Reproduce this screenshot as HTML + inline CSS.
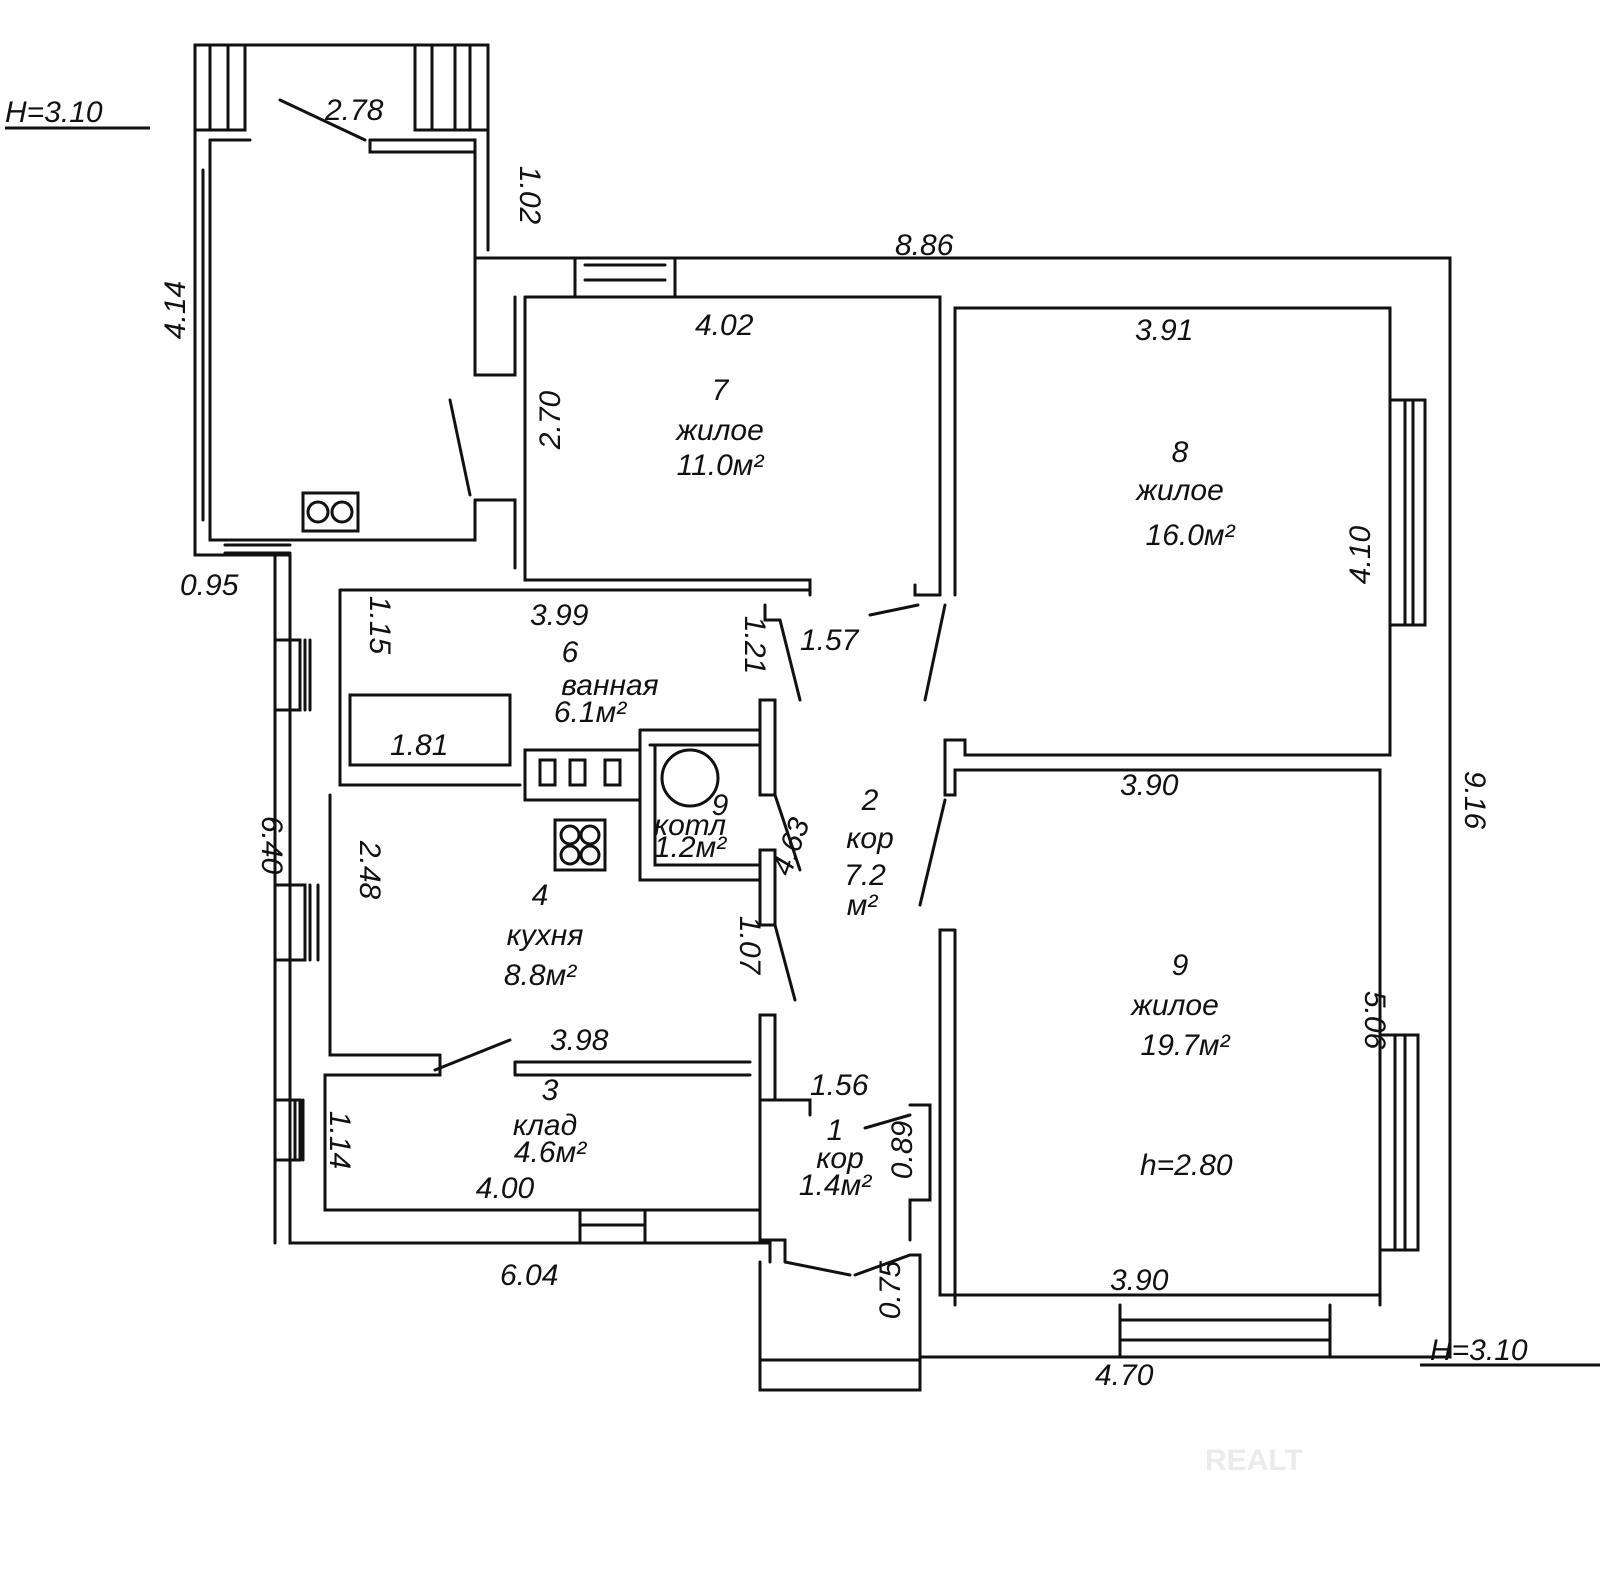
<!DOCTYPE html>
<html><head><meta charset="utf-8"><style>
html,body{margin:0;padding:0;background:#fff}
svg{display:block}
text{font-family:"Liberation Sans","DejaVu Sans",sans-serif;font-style:italic;fill:#111;font-size:30px}
</style></head><body>
<svg width="1600" height="1577" viewBox="0 0 1600 1577" xmlns="http://www.w3.org/2000/svg">
<rect width="1600" height="1577" fill="#fff"/>
<g fill="none" stroke="#111" stroke-width="3" stroke-linecap="round">
<path d="M195,130 V45 H488 V130"/>
<path d="M195,130 H245 V45 M210,45 V130 M228,45 V130"/>
<path d="M415,45 V130 H488 M432,45 V130 M455,45 V130 M470,45 V130"/>
<path d="M195,130 V555 H290 M210,140 V540 H475 V500"/>
<path d="M210,140 H250 M370,140 H475 V250 M488,130 V250"/>
<path d="M210,170 V520 M203,170 V520"/>
<path d="M225,545 H290 M225,553 H290"/>
<path d="M280,100 L365,140 M370,140 V152 H475"/>
<path d="M475,250 V375 H515 V297 M475,500 H515 V568"/>
<path d="M450,400 L470,495"/>
<rect x="303" y="493" width="55" height="38"/><circle cx="318" cy="512" r="10"/><circle cx="342" cy="512" r="10"/>
<path d="M475,258 H1450 V1357 H920"/>
<path d="M575,258 V297 M675,258 V297 M585,265 H665 M585,280 H665"/>
<path d="M525,297 H940 V595 M955,595 V308 H1390 V755 H965 V740 H945 V795 H955 V770 H1380 V1305"/>
<path d="M525,297 V580 H810 V595"/>
<path d="M940,595 H915 V585 M918,605 L870,615 M945,605 L925,700"/>
<path d="M765,605 V620 H780 M780,620 L800,700"/>
<path d="M1390,400 H1425 V625 H1390 M1405,400 V625 M1413,400 V625"/>
<path d="M955,930 H940 V1295 H1380 M955,930 V1305"/>
<path d="M1380,1035 H1418 V1250 H1380 M1395,1035 V1250 M1405,1035 V1250"/>
<path d="M945,800 L920,905"/>
<path d="M1120,1305 V1357 M1330,1305 V1357 M1120,1320 H1330 M1120,1340 H1330"/>
<path d="M290,555 V1243 H770 V1262 M275,555 V1243"/>
<path d="M275,640 H300 V710 H275 M305,640 V710 M310,640 V710"/>
<path d="M275,885 H305 V960 H275 M310,885 V960 M318,885 V960"/>
<path d="M275,1100 H300 V1160 H275 M295,1100 V1160 M303,1100 V1160"/>
<path d="M340,590 H810 M340,590 V785 H520 M330,795 V1055 H440"/>
<path d="M350,695 H510 V765 H350 Z"/>
<path d="M525,750 H640 V800 H525 Z"/>
<rect x="540" y="760" width="15" height="25"/><rect x="570" y="760" width="15" height="25"/><rect x="605" y="760" width="15" height="25"/>
<path d="M640,730 H760 V700 M650,745 H760 M640,730 V880 H760 M655,745 V865 H760"/>
<circle cx="690" cy="778" r="28"/>
<path d="M760,700 H775 V795 H760 Z M760,850 H775 V925 H760 Z"/>
<path d="M775,795 L800,870 M775,925 L795,1000"/>
<rect x="555" y="820" width="50" height="50"/><circle cx="570" cy="835" r="9"/><circle cx="590" cy="835" r="9"/><circle cx="570" cy="855" r="9"/><circle cx="590" cy="855" r="9"/>
<path d="M440,1055 V1075 H325 V1210 H760 M435,1070 L510,1040 M515,1062 H750 M515,1075 H750 M515,1062 V1075"/>
<path d="M760,1015 H775 V1100 H760 Z M760,1100 V1240 H785 V1262"/>
<path d="M775,1100 H810 V1115 M865,1128 L910,1115 M910,1105 H930 V1200 H910 V1240"/>
<path d="M580,1210 V1243 M645,1210 V1243 M580,1225 H645"/>
<path d="M760,1262 V1390 H920 V1357 M760,1360 H920 M785,1262 L850,1275 M855,1275 L910,1255 H920 V1357"/>
</g>
<text x="5" y="122" font-size="38">H=3.10</text>
<line x1="5" y1="128" x2="150" y2="128" stroke="#111" stroke-width="3"/>
<text x="325" y="120">2.78</text>
<text x="895" y="255">8.86</text>
<text x="695" y="335">4.02</text>
<text x="1135" y="340">3.91</text>
<text x="720" y="400" text-anchor="middle">7</text>
<text x="720" y="440" text-anchor="middle">жилое</text>
<text x="720" y="475" text-anchor="middle">11.0м²</text>
<text x="1180" y="462" text-anchor="middle">8</text>
<text x="1180" y="500" text-anchor="middle">жилое</text>
<text x="1190" y="545" text-anchor="middle">16.0м²</text>
<text x="180" y="595">0.95</text>
<text x="530" y="625">3.99</text>
<text x="800" y="650">1.57</text>
<text x="570" y="662" text-anchor="middle">6</text>
<text x="610" y="695" text-anchor="middle">ванная</text>
<text x="590" y="722" text-anchor="middle" font-size="24">6.1м²</text>
<text x="390" y="755">1.81</text>
<text x="1120" y="795">3.90</text>
<text x="720" y="815" text-anchor="middle" font-size="22">9</text>
<text x="690" y="835" text-anchor="middle" font-size="22">котл</text>
<text x="690" y="857" text-anchor="middle" font-size="22">1.2м²</text>
<text x="870" y="810" text-anchor="middle">2</text>
<text x="870" y="848" text-anchor="middle">кор</text>
<text x="865" y="885" text-anchor="middle">7.2</text>
<text x="862" y="915" text-anchor="middle" font-size="20">м²</text>
<text x="540" y="905" text-anchor="middle">4</text>
<text x="545" y="945" text-anchor="middle">кухня</text>
<text x="540" y="985" text-anchor="middle">8.8м²</text>
<text x="1180" y="975" text-anchor="middle">9</text>
<text x="1175" y="1015" text-anchor="middle">жилое</text>
<text x="1185" y="1055" text-anchor="middle">19.7м²</text>
<text x="550" y="1050">3.98</text>
<text x="810" y="1095">1.56</text>
<text x="550" y="1100" text-anchor="middle">3</text>
<text x="545" y="1135" text-anchor="middle">клад</text>
<text x="550" y="1162" text-anchor="middle" font-size="24">4.6м²</text>
<text x="505" y="1198" text-anchor="middle">4.00</text>
<text x="835" y="1140" text-anchor="middle">1</text>
<text x="840" y="1168" text-anchor="middle">кор</text>
<text x="835" y="1195" text-anchor="middle" font-size="24">1.4м²</text>
<text x="1140" y="1175" font-size="34">h=2.80</text>
<text x="1110" y="1290">3.90</text>
<text x="500" y="1285">6.04</text>
<text x="1095" y="1385">4.70</text>
<text x="1430" y="1360" font-size="38">H=3.10</text>
<line x1="1420" y1="1365" x2="1600" y2="1365" stroke="#111" stroke-width="3"/>
<g font-size="28">
<text transform="translate(185,310) rotate(-90)" text-anchor="middle">4.14</text>
<text transform="translate(520,195) rotate(90)" text-anchor="middle">1.02</text>
<text transform="translate(560,420) rotate(-90)" text-anchor="middle">2.70</text>
<text transform="translate(1370,555) rotate(-90)" text-anchor="middle">4.10</text>
<text transform="translate(1465,800) rotate(90)" text-anchor="middle">9.16</text>
<text transform="translate(1365,1020) rotate(90)" text-anchor="middle">5.06</text>
<text transform="translate(370,625) rotate(90)" text-anchor="middle" font-size="22">1.15</text>
<text transform="translate(745,645) rotate(90)" text-anchor="middle">1.21</text>
<text transform="translate(262,845) rotate(90)" text-anchor="middle">6.40</text>
<text transform="translate(360,870) rotate(90)" text-anchor="middle">2.48</text>
<text transform="translate(800,850) rotate(-70)" text-anchor="middle">4.63</text>
<text transform="translate(740,945) rotate(90)" text-anchor="middle">1.07</text>
<text transform="translate(330,1140) rotate(90)" text-anchor="middle">1.14</text>
<text transform="translate(912,1150) rotate(-90)" text-anchor="middle" font-size="24">0.89</text>
<text transform="translate(900,1290) rotate(-90)" text-anchor="middle" font-size="24">0.75</text>
</g>
<text x="1205" y="1470" font-size="80" style="font-style:normal;fill:#ebebeb;font-weight:bold">REALT</text>
</svg>
</body></html>
